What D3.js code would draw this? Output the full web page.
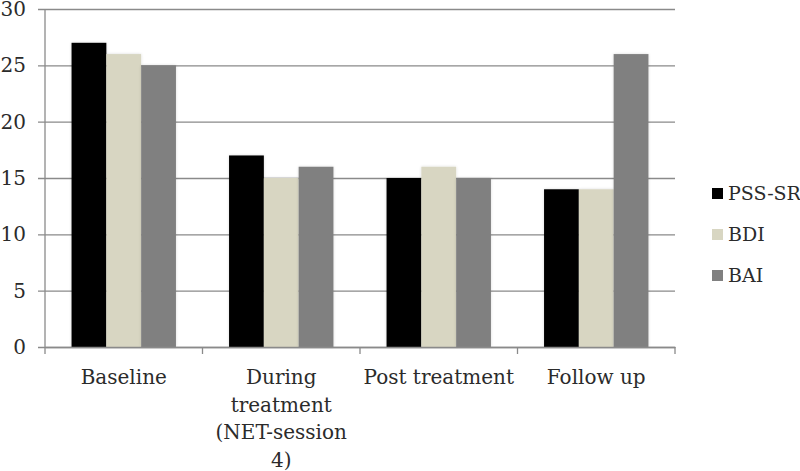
<!DOCTYPE html>
<html>
<head>
<meta charset="utf-8">
<script src="https://cdn.jsdelivr.net/npm/d3@7"></script>
<style>
  body { margin: 0; background: #fff; }
  svg { display: block; }
  text { font-family: "DejaVu Serif", serif; fill: #2b2b2b; }
</style>
</head>
<body>
<svg id="chart" width="800" height="471"></svg>
<script>
const categories = ["Baseline", "During treatment (NET-session 4)", "Post treatment", "Follow up"];
const seriesNames = ["PSS-SR", "BDI", "BAI"];
const pssSR = [27, 17, 15, 14];
const bdi = [26, 15, 16, 14];
const bai = [25, 16, 15, 26];
const yTicks = [0, 5, 10, 15, 20, 25, 30];
const colors = ["#000000", "#d8d6c2", "#808080"];

(function () {
const seriesValues = [pssSR, bdi, bai];
const svg = d3.select("#chart");
const mLeft = 45, mRight = 675, mTop = 9, mBottom = 347;

const x = d3.scaleBand().domain(categories).range([mLeft, mRight]).paddingInner(0).paddingOuter(0);
const xInner = d3.scaleBand().domain(seriesNames).range([0, x.bandwidth()]).paddingInner(0.0).paddingOuter(0.763);
const y = d3.scaleLinear().domain([0, 30]).range([mBottom, mTop]);

// shadow filter
const defs = svg.append("defs");
const f = defs.append("filter").attr("id", "sh").attr("x", "-20%").attr("y", "-5%").attr("width", "140%").attr("height", "110%");
f.append("feGaussianBlur").attr("in", "SourceAlpha").attr("stdDeviation", 1.5).attr("result", "b");
f.append("feComponentTransfer").attr("in", "b").attr("result", "c")
  .append("feFuncA").attr("type", "linear").attr("slope", 0.15);
const m = f.append("feMerge");
m.append("feMergeNode").attr("in", "c");
m.append("feMergeNode").attr("in", "SourceGraphic");

// gridlines + y axis
const yAxis = d3.axisLeft(y).tickValues(yTicks).tickSize(7).tickPadding(12);
const gy = svg.append("g").attr("transform", `translate(${mLeft},0)`).call(yAxis);
gy.select(".domain").attr("stroke", "#8a8a8a").attr("stroke-width", 1.3).attr("d", `M0,${mTop}V${mBottom + 1}`);
gy.selectAll(".tick line").attr("stroke", "#8a8a8a").attr("stroke-width", 1.3).attr("x1", -7).attr("x2", mRight - mLeft);
gy.selectAll(".tick text").attr("font-size", 20).attr("font-family", "DejaVu Serif").attr("fill", "#2b2b2b");

// bars
const groups = svg.append("g").selectAll("g").data(categories).join("g")
  .attr("transform", d => `translate(${x(d)},0)`);
groups.selectAll("rect").data((d, i) => seriesNames.map((s, j) => ({ s, v: seriesValues[j][i], j })))
  .join("rect")
  .attr("x", d => xInner(d.s))
  .attr("y", d => y(d.v))
  .attr("width", xInner.bandwidth())
  .attr("height", d => y(0) - y(d.v))
  .attr("fill", d => colors[d.j])
  .attr("filter", "url(#sh)");

// x axis
const xAxis = d3.axisBottom(x).tickSize(0).tickFormat("");
const gx = svg.append("g").attr("transform", `translate(0,${mBottom})`).call(xAxis);
gx.select(".domain").attr("stroke", "#8a8a8a").attr("stroke-width", 1.3);
const tickPos = d3.range(categories.length + 1).map(i => mLeft + i * x.bandwidth());
gx.selectAll("line.sep").data(tickPos).join("line").attr("class", "sep")
  .attr("x1", d => d).attr("x2", d => d).attr("y1", 0).attr("y2", 7)
  .attr("stroke", "#8a8a8a").attr("stroke-width", 1.3);

// category labels with wrapping
const labels = svg.append("g").selectAll("text").data(categories).join("text")
  .attr("x", d => x(d) + x.bandwidth() / 2)
  .attr("y", 384)
  .attr("text-anchor", "middle")
  .attr("font-size", 20);
labels.each(function(d) {
  const t = d3.select(this);
  const words = d.split(" ");
  let line = [], lines = [];
  const tmp = t.append("tspan");
  words.forEach(w => {
    const test = line.concat([w]).join(" ");
    tmp.text(test);
    if (tmp.node().getComputedTextLength() > 157 && line.length) {
      lines.push(line.join(" "));
      line = [w];
    } else line.push(w);
  });
  lines.push(line.join(" "));
  tmp.remove();
  lines.forEach((l, i) => {
    t.append("tspan").attr("x", x(d) + x.bandwidth() / 2).attr("dy", i === 0 ? 0 : 27.5).text(l);
  });
});

// legend
const legend = svg.append("g").selectAll("g").data(seriesNames).join("g")
  .attr("transform", (d, i) => `translate(712,${188 + i * 41})`);
legend.append("rect").attr("width", 11).attr("height", 11).attr("fill", (d, i) => colors[i]);
legend.append("text").attr("x", 16).attr("y", 12).attr("font-size", 19).text(d => d);
})();
</script>
</body>
</html>
